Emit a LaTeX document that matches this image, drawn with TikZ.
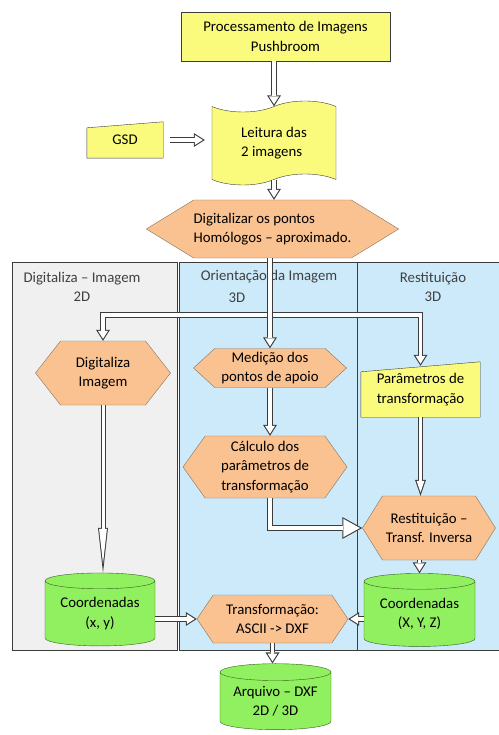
\documentclass[tikz,border=0pt]{standalone}
\usepackage{fontspec}
\setmainfont{Carlito}
\usetikzlibrary{arrows.meta,calc,shapes.geometric,shapes.symbols,backgrounds}
\definecolor{boxyellow}{RGB}{250,250,125}
\definecolor{hexpeach}{RGB}{250,194,145}
\definecolor{hexedge}{RGB}{135,115,95}
\definecolor{cylgreen}{RGB}{145,240,95}
\definecolor{cyledge}{RGB}{55,95,30}
\definecolor{laneblue}{RGB}{204,234,250}
\definecolor{lanegray}{RGB}{240,240,240}
\definecolor{edge}{RGB}{60,60,60}

\begin{document}
\begin{tikzpicture}[x=1pt,y=-1pt,font=\fontsize{14.8}{19.5}\selectfont,
  hexbox/.style={signal,signal to=west and east,draw=hexedge,fill=hexpeach,inner sep=0pt,align=center},
  ybox/.style={draw=edge,fill=boxyellow,align=center},
  dbcyl/.style={cylinder,shape border rotate=90,aspect=0.2,draw=cyledge,fill=cylgreen,align=center,inner sep=0pt},
  lanetitle/.style={text=black!75,align=center},
  % hollow block arrows: dark outer stroke, white inner stroke
  hollow/.style={draw=edge,line width=5.5pt,-{Triangle[length=11pt,width=14pt,line width=0pt]},
    postaction={draw=white,line width=3.3pt,-{Triangle[length=7.85pt,width=10pt,line width=0pt]},shorten >=2.05pt}},
  hollowboth/.style={draw=edge,line width=5.5pt,{Triangle[length=11pt,width=14pt,line width=0pt]}-{Triangle[length=11pt,width=14pt,line width=0pt]},
    postaction={draw=white,line width=3.3pt,{Triangle[length=7.85pt,width=10pt,line width=0pt]}-{Triangle[length=7.85pt,width=10pt,line width=0pt]},shorten >=2.05pt,shorten <=2.05pt}},
  hollowbig/.style={draw=edge,line width=6.5pt,-{Triangle[length=20pt,width=22pt,line width=0pt]},
    postaction={draw=white,line width=4.3pt,-{Triangle[length=16.6pt,width=18.3pt,line width=0pt]},shorten >=2.3pt}},
  hollowmid/.style={draw=edge,line width=5.5pt,-{Triangle[length=16pt,width=11pt,line width=0pt]},
    postaction={draw=white,line width=3.3pt,-{Triangle[length=11.5pt,width=7.9pt,line width=0pt]},shorten >=3.4pt}},
  hollowlong/.style={draw=edge,line width=5pt,-{Triangle[length=45pt,width=10pt,line width=0pt]},
    postaction={draw=white,line width=3pt,-{Triangle[length=34.9pt,width=7.8pt,line width=0pt]},shorten >=9.1pt}}]
\useasboundingbox (0,0) rectangle (498,735);

% top of the chain
\node[ybox,minimum width=209,minimum height=49] (proc) at (285.5,36.5) {Processamento de Imagens\\Pushbroom};
\node[tape,draw=edge,fill=boxyellow,tape bend height=11,minimum width=124,minimum height=84,align=left] (leitura) at (274,143) {Leitura das\\2 imagens};
\node[minimum width=76,minimum height=36] (gsd) at (125,140) {GSD};
\node[hexbox,minimum width=239,minimum height=58,signal pointer angle=63,align=left] (digit) at (272.5,229) {Digitalizar os pontos\\Homólogos – aproximado.};

% lanes
\begin{scope}[on background layer]
\draw[edge,fill=lanegray] (12,262) rectangle (177,650);
\draw[edge,fill=laneblue] (179,262) rectangle (357,650);
\draw[edge,fill=laneblue] (357,262) rectangle (505,650);
\end{scope}
\node[lanetitle] (lane1) at (82,287) {Digitaliza – Imagem\\2D};
\node[lanetitle] (lane2) at (269,277) {Orientação da Imagem};
\node[lanetitle] (lane2b) at (237,298) {3D};
\node[lanetitle] (lane3) at (433,287) {Restituição\\3D};

% inside the lanes
\node[hexbox,minimum width=135,minimum height=64,signal pointer angle=104] (dimg) at (103,373) {Digitaliza\\Imagem};
\node[hexbox,minimum width=153,minimum height=39,signal pointer angle=85] (medic) at (270,368) {Medição dos\\pontos de apoio};
\node[minimum width=119,minimum height=55,align=left] (param) at (420.5,389.5) {Parâmetros de\\transformação};
\node[hexbox,minimum width=164,minimum height=62,signal pointer angle=109] (calc) at (265,467) {Cálculo dos\\parâmetros de\\transformação};
\node[hexbox,minimum width=133,minimum height=64,signal pointer angle=116] (rest) at (429,528) {Restituição –\\Transf. Inversa};
\node[dbcyl,minimum width=110,minimum height=73] (cxy) at (100,613.5) {Coordenadas\\(x, y)};
\node[hexbox,minimum width=151,minimum height=48,signal pointer angle=112] (trans) at (272.5,619) {Transformação:\\ASCII -> DXF};
\node[dbcyl,minimum width=111,minimum height=73] (cxyz) at (419.5,614) {Coordenadas\\(X, Y, Z)};
\node[dbcyl,minimum width=111,minimum height=66] (arq) at (275.5,701) {Arquivo – DXF\\2D / 3D};

% manual input outlines
\begin{scope}[on background layer]
\draw[ybox] (gsd.south west) -- ([yshift=-6pt]gsd.north west) -- (gsd.north east) -- (gsd.south east) -- cycle;
\draw[ybox] (param.south west) -- ([yshift=-10pt]param.north west) -- (param.north east) -- (param.south east) -- cycle;
\end{scope}

% connectors
\coordinate (split) at (270,315);
\draw[hollow] (proc.south -| leitura.north) -- (leitura.north);
\draw[hollow] ([xshift=7pt]gsd.east) -- ([xshift=-7pt]gsd.east -| leitura.west);
\draw[hollow] (leitura.south) -- (leitura.south |- digit.north);
\draw[hollowboth] (dimg.north) |- (split) -| ([yshift=-4pt]param.north);
\draw[hollow] (digit.south -| medic.north) -- (medic.north);
\draw[hollow] (medic.south) -- (medic.south |- calc.north);
\draw[hollowbig] (calc.south -| medic.south) |- (rest.west);
\draw[hollowmid] (param.south) -- (param.south |- rest.north);
\draw[hollow] (cxyz.north |- rest.south) -- (cxyz.north);
\draw[hollowlong] (dimg.south) -- (dimg.south |- cxy.north);
\draw[hollow] (cxy.east |- trans.west) -- (trans.west);
\draw[hollow] (cxyz.west |- trans.east) -- (trans.east);
\draw[hollow] (trans.south) -- (trans.south |- arq.north);
\end{tikzpicture}
\end{document}
